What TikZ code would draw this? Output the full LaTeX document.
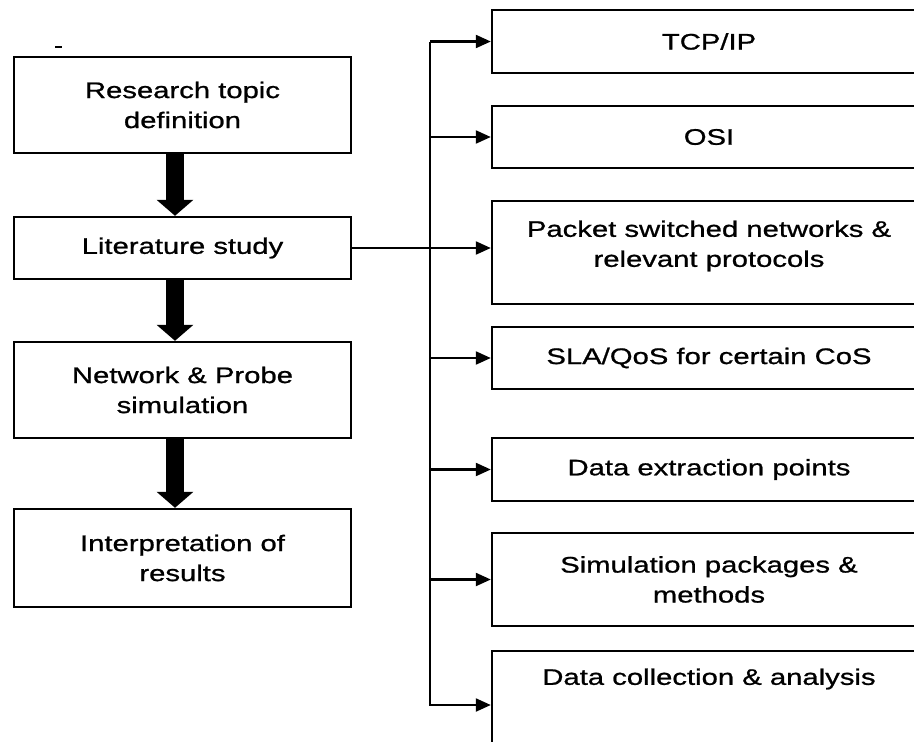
\documentclass[tikz,border=0pt]{standalone}
\usepackage{fontspec}
\setmainfont[FakeStretch=1.3,FakeBold=0.9]{Liberation Sans}
\usetikzlibrary{arrows.meta}
\begin{document}
\begin{tikzpicture}[x=1pt,y=-1pt,
  every node/.style={font=\fontsize{22.5}{30}\selectfont},
  box/.style={draw, line width=2.4pt, align=center, inner sep=0pt},
  lbox/.style={box, minimum width=337pt},
  rbox/.style={box, minimum width=434pt},
  txt/.style={align=center, inner sep=0pt},
  link/.style={line width=2.2pt},
  tip/.style={link, -{Triangle[length=15pt,width=13pt]}},
  fat/.style={line width=18pt, -{Triangle[length=16pt,width=36pt]}},
]
\useasboundingbox (0,0) rectangle (914,742);
\clip (0,0) rectangle (914,742);
\fill[white] (0,0) rectangle (914,742);

% small stray mark above the first step
\draw[line width=1.5pt] (55,47) -- (62,47);

% main research process (left column)
\node[lbox, minimum height=96pt] (b1) at (182.5,105) {Research topic\\definition};
\node[lbox, minimum height=62pt] (b2) at (182.5,248) {Literature study};
\node[lbox, minimum height=96pt] (b3) at (182.5,390) {Network \& Probe\\simulation};
\node[lbox, minimum height=98pt] (b4) at (182.5,558) {Interpretation of\\results};

\draw[fat] ([xshift=-7.5pt]b1.south) -- ([xshift=-7.5pt]b2.north);
\draw[fat] ([xshift=-7.5pt]b2.south) -- ([xshift=-7.5pt]b3.north);
\draw[fat] ([xshift=-7.5pt]b3.south) -- ([xshift=-7.5pt]b4.north);

% literature study topics (right column)
\node[rbox, minimum height=63pt] (p1) at (709,41.5) {TCP/IP};
\node[rbox, minimum height=62pt] (p2) at (709,137) {OSI};
\node[rbox, minimum height=103pt] (p3) at (709,252.5) {};
\node[txt] (p3t) at (709,246) {Packet switched networks \&\\relevant protocols};
\node[rbox, minimum height=62pt] (p4) at (709,358) {SLA/QoS for certain CoS};
\node[rbox, minimum height=63pt] (p5) at (709,469.5) {Data extraction points};
\node[rbox, minimum height=93pt] (p6) at (709,579.5) {Simulation packages \&\\methods};
\node[rbox, minimum height=149pt] (p7) at (709,725.5) {};
\node[txt] (p7t) at (709,679) {Data collection \& analysis};

% distribution trunk
\coordinate (tt) at (430,41.5);
\coordinate (tb) at (430,705);
\draw[tip] (tt) -- (tb) -- (tb -| p7.west);
\draw[tip] (tt) -- (p1.west);
\foreach \n in {p2,p4,p5,p6}
  \draw[tip] (tt |- \n.west) -- (\n.west);
\draw[tip] (b2.east) -- (b2.east -| p3.west);
\end{tikzpicture}
\end{document}
